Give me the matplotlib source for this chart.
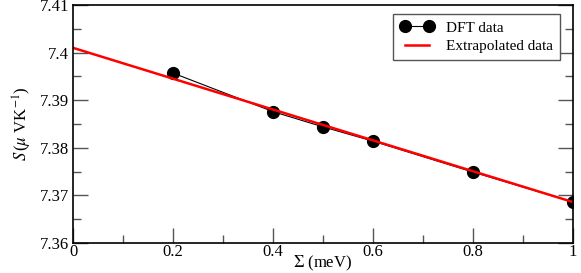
import numpy as np
import matplotlib
matplotlib.use('Agg')
import matplotlib.pyplot as plt
from matplotlib.ticker import MultipleLocator

# DFT data
sigma = [0.2, 0.4, 0.5, 0.6, 0.8, 1.0]
seebeck = [7.3957, 7.3876, 7.3844, 7.3814, 7.3749, 7.3686]

# extrapolated line end points
sigma_fit = [0.0, 1.0]
seebeck_fit = [7.4010, 7.3686]

x_ticks = [0, 0.2, 0.4, 0.6, 0.8, 1.0]
x_labels = ['0', '0.2', '0.4', '0.6', '0.8', '1']
y_ticks = [7.36, 7.37, 7.38, 7.39, 7.40, 7.41]
y_labels = ['7.36', '7.37', '7.38', '7.39', '7.4', '7.41']

plt.rcParams['font.family'] = ['Liberation Serif', 'DejaVu Serif']
plt.rcParams['mathtext.fontset'] = 'stix'

fig = plt.figure(figsize=(5.81, 2.73), dpi=100)
ax = fig.add_axes([73/581, 30/273, 500/581, 238/273])

ax.plot(sigma, seebeck, color='black', lw=0.8, marker='o', ms=8.5,
        label='DFT data')
ax.plot(sigma_fit, seebeck_fit, color='red', lw=1.8, label='Extrapolated data')

ax.set_xlim(0, 1)
ax.set_ylim(7.36, 7.41)
ax.set_xticks(x_ticks)
ax.set_xticklabels(x_labels)
ax.set_yticks(y_ticks)
ax.set_yticklabels(y_labels)
ax.xaxis.set_minor_locator(MultipleLocator(0.1))
ax.yaxis.set_minor_locator(MultipleLocator(0.005))

ax.tick_params(which='both', direction='in', right=True, top=False,
               labelsize=12, color='#555555')
ax.tick_params(which='major', length=11, width=1)
ax.tick_params(which='minor', length=6, width=1)
ax.tick_params(axis='x', pad=1)
ax.tick_params(axis='y', pad=3)
for s in ax.spines.values():
    s.set_linewidth(1.2)

ax.set_xlabel(r'$\Sigma$ (meV)', fontsize=12, labelpad=-4.5)
ax.set_ylabel(r'$S\,$($\mu$ VK$^{-1}$)', fontsize=12, labelpad=4)

leg = ax.legend(loc='upper right', bbox_to_anchor=(0.974, 0.962), numpoints=2,
                fontsize=11, fancybox=False, framealpha=1, edgecolor='#555555',
                handlelength=2.2, borderpad=0.45, labelspacing=0.3,
                borderaxespad=0)
leg.get_frame().set_linewidth(1)

fig.savefig('out.png', dpi=100)
